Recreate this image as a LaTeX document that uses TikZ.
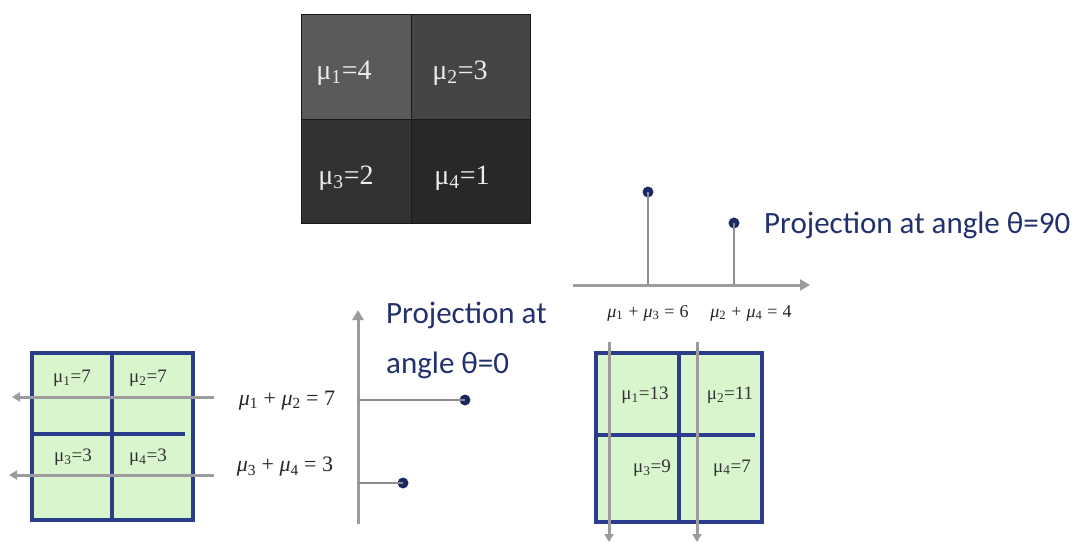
\documentclass[tikz,border=0pt]{standalone}
\usepackage{fontspec}
\setmainfont{Liberation Serif}
\newfontfamily\calfont{Carlito}
\usetikzlibrary{arrows.meta}
\definecolor{navy}{HTML}{22306E}
\definecolor{dotblue}{HTML}{1C2A63}
\definecolor{gridblue}{HTML}{2C3C8C}
\definecolor{cellgreen}{HTML}{D9F5CE}
\definecolor{arrgray}{HTML}{9C9C9C}
\definecolor{stemgray}{HTML}{8E8E8E}
\definecolor{dTL}{HTML}{5A5A5A}
\definecolor{dTR}{HTML}{454545}
\definecolor{dBL}{HTML}{323232}
\definecolor{dBR}{HTML}{282828}
\newcommand\sumtext[4]{\textit{μ}\textsubscript{#1}\hspace{#4}+\hspace{#4}\textit{μ}\textsubscript{#2}\hspace{#4}=\hspace{#4}#3}
\tikzset{
  darklab/.style={text=white!92!black, font=\fontsize{28}{30}\selectfont, inner sep=0pt},
  greenlab/.style={text=black!80, font=\fontsize{19}{21}\selectfont, inner sep=0pt},
  sumlab/.style={text=black!85, inner sep=0pt},
  projtxt/.style={text=navy, font=\calfont\fontsize{31}{33}\selectfont, inner sep=0pt, anchor=base west},
  gridline/.style={draw=gridblue, line width=3.4pt},
  projarrow/.style={draw=arrgray, line width=3pt, -{Triangle[length=8pt,width=9pt]}},
  axisarrow/.style={draw=arrgray, line width=3pt, -{Triangle[length=10pt,width=11pt]}},
  stem/.style={draw=stemgray, line width=2pt},
  dot/.style={circle, fill=dotblue, inner sep=0pt, minimum size=11pt},
}
\begin{document}
\begin{tikzpicture}[x=1pt,y=-1pt]
\useasboundingbox[fill=white] (0,0) rectangle (1088,543);

% ---------- dark image grid ----------
\fill[dTL] (301,15) rectangle (411,119);
\fill[dTR] (411,15) rectangle (530,119);
\fill[dBL] (301,119) rectangle (411,223);
\fill[dBR] (411,119) rectangle (530,223);
\draw[black!90, line width=1pt] (301,15) rectangle (530,223);
\draw[black!90, line width=1pt] (411,15) -- (411,223) (301,119) -- (530,119);
\node[darklab] (d1) at (344,73) {μ\textsubscript{1}=4};
\node[darklab] (d2) at (460,73) {μ\textsubscript{2}=3};
\node[darklab] (d3) at (346,178) {μ\textsubscript{3}=2};
\node[darklab] (d4) at (462,178) {μ\textsubscript{4}=1};

% ---------- left green grid ----------
\fill[cellgreen] (32,353) rectangle (193,520);
\draw[gridline] (32,353) rectangle (193,520);
\draw[gridline] (112,353) -- (112,520);
\draw[gridline] (32,434) -- (185,434);
\node[greenlab] (l1) at (72,378) {μ\textsubscript{1}=7};
\node[greenlab] (l2) at (148,378) {μ\textsubscript{2}=7};
\node[greenlab] (l3) at (73,457) {μ\textsubscript{3}=3};
\node[greenlab] (l4) at (148,457) {μ\textsubscript{4}=3};
\coordinate (la1s) at (214,397);
\coordinate (la1e) at (12,397);
\coordinate (la2s) at (214,475);
\coordinate (la2e) at (9,475);
\draw[projarrow] (la1s) -- (la1e);
\draw[projarrow] (la2s) -- (la2e);

% ---------- theta = 0 projection ----------
\node[sumlab, font=\fontsize{22}{24}\selectfont] (s12) at (287,401) {\sumtext{1}{2}{7}{0.25em}};
\node[sumlab, font=\fontsize{22}{24}\selectfont] (s34) at (285,467) {\sumtext{3}{4}{3}{0.25em}};
\coordinate (vaxb) at (358,524);
\coordinate (vaxt) at (358,310);
\draw[axisarrow] (vaxb) -- (vaxt);
\coordinate (h1) at (358,400);
\coordinate (h2) at (358,483);
\node[dot] (p1) at (465,400) {};
\node[dot] (p2) at (403,483) {};
\draw[stem] (h1) -- (p1.center);
\draw[stem] (h2) -- (p2.center);
\node[projtxt] (t0a) at (386,323) {Projection at};
\node[projtxt] (t0b) at (386,373) {angle θ=0};

% ---------- theta = 90 projection ----------
\coordinate (haxl) at (573,285);
\coordinate (haxr) at (810,285);
\draw[axisarrow] (haxl) -- (haxr);
\coordinate (v1) at (648,285);
\coordinate (v2) at (734,285);
\node[dot] (q1) at (648,192) {};
\node[dot] (q2) at (734,223) {};
\draw[stem] (v1) -- (q1.center);
\draw[stem] (v2) -- (q2.center);
\node[sumlab, font=\fontsize{18}{20}\selectfont] (s13) at (648,313) {\sumtext{1}{3}{6}{0.28em}};
\node[sumlab, font=\fontsize{18}{20}\selectfont] (s24) at (751,313) {\sumtext{2}{4}{4}{0.28em}};
\node[projtxt] (t90) at (764,233) {Projection at angle θ=90};

% ---------- right green grid ----------
\fill[cellgreen] (596,353) rectangle (762,522);
\draw[gridline] (596,353) rectangle (762,522);
\draw[gridline] (679,353) -- (679,522);
\draw[gridline] (596,435) -- (755,435);
\node[greenlab] (r1) at (645,395) {μ\textsubscript{1}=13};
\node[greenlab] (r2) at (730,395) {μ\textsubscript{2}=11};
\node[greenlab] (r3) at (652,468) {μ\textsubscript{3}=9};
\node[greenlab] (r4) at (732,468) {μ\textsubscript{4}=7};
\coordinate (ra1s) at (609,342);
\coordinate (ra1e) at (609,542);
\coordinate (ra2s) at (697,342);
\coordinate (ra2e) at (697,542);
\draw[projarrow] (ra1s) -- (ra1e);
\draw[projarrow] (ra2s) -- (ra2e);
\end{tikzpicture}
\end{document}
